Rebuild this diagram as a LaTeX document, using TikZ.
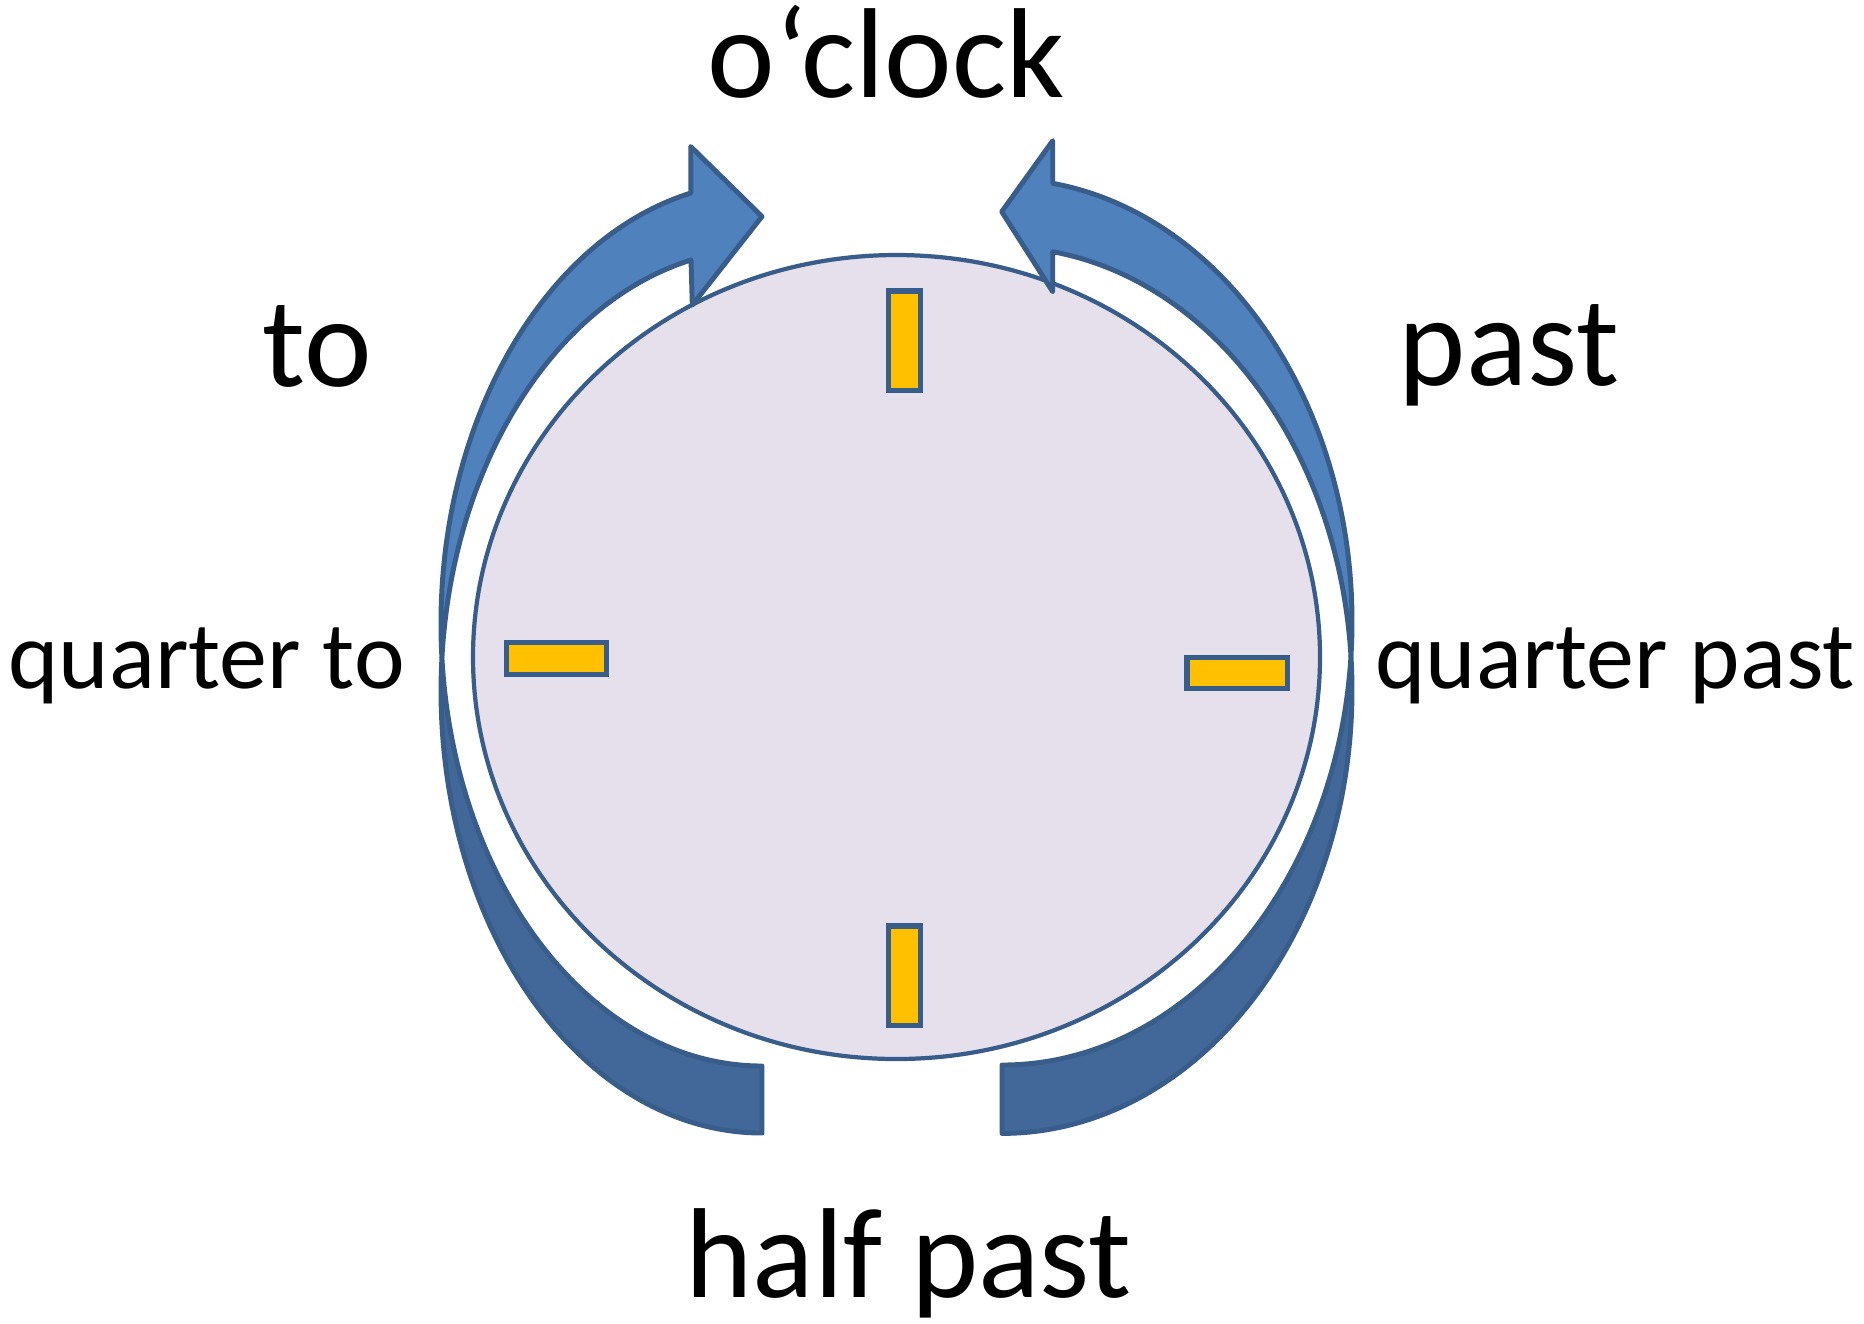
\documentclass[tikz,border=0pt]{standalone}
\usepackage{fontspec}
\setmainfont{Carlito}
\definecolor{arrowblue}{HTML}{4F81BD}
\definecolor{arrowdark}{HTML}{416898}
\definecolor{edgeblue}{HTML}{385D8A}
\definecolor{clockfill}{HTML}{E5E0EC}
\definecolor{tickfill}{HTML}{FFC000}
\tikzset{
  clockface/.style={draw=edgeblue, fill=clockfill, line width=1.2pt},
  tickbox/.style={draw=edgeblue, fill=tickfill, line width=1.5pt},
  arrowup/.style={draw=edgeblue, fill=arrowblue, line width=1.4pt, line join=round},
  arrowlow/.style={draw=edgeblue, fill=arrowdark, line width=1.4pt, line join=round},
  leftarc/.style={x radius=321, y radius=442},
  rightarc/.style={x radius=350, y radius=443.2},
  bigtext/.style={font=\fontsize{36.4pt}{40pt}\selectfont, inner sep=0pt, anchor=base},
  smalltext/.style={font=\fontsize{27.3pt}{31pt}\selectfont, inner sep=0pt, anchor=base},
}
\begin{document}
\begin{tikzpicture}[x=0.01cm,y=-0.01cm]
\useasboundingbox (0,0) rectangle (1864,1323);
\fill[white] (0,0) rectangle (1864,1323);

% clock face
\draw[clockface] (896.5,657) ellipse [x radius=423.5, y radius=402];

% ticks
\draw[tickbox] (888.7,291) rectangle (920.7,390.7);
\draw[tickbox] (888.7,926) rectangle (920.7,1025.7);
\draw[tickbox] (506.7,642.7) rectangle (606.7,674.3);
\draw[tickbox] (1187,657.7) rectangle (1287.3,688.3);

% left ribbon: ellipses centred (762,624) and (762,691)
\coordinate (LX) at (441.9,657.5);
\coordinate (LEndB) at (762,1133);
\coordinate (LHt) at (690.7,146.5);
\coordinate (LTip) at (762,216.5);
\coordinate (LHb) at (692.3,305);
\coordinate (LJi) at (691,260);
\draw[arrowlow] (LX) arc[start angle=175.65, end angle=90, leftarc]
  -- (LEndB) arc[start angle=90, end angle=184.35, leftarc] -- cycle;
\draw[arrowup] (LX) arc[start angle=175.65, end angle=257.22, leftarc]
  -- (LHt) -- (LTip) -- (LHb) -- (LJi)
  arc[start angle=257.22, end angle=184.35, leftarc] -- cycle;

% right ribbon: ellipses centred (1002,621.8) and (1002,690.2)
\coordinate (RX) at (1350.96,656);
\coordinate (REndB) at (1002,1133.4);
\coordinate (RHt) at (1052.7,140.7);
\coordinate (RTip) at (1001.7,211.7);
\coordinate (RHb) at (1052.7,291.7);
\coordinate (RJi) at (1052.7,251.7);
\draw[arrowlow] (RX) arc[start angle=4.426, end angle=90, rightarc]
  -- (REndB) arc[start angle=90, end angle=-4.426, rightarc] -- cycle;
\draw[arrowup] (RX) arc[start angle=4.426, end angle=-81.67, rightarc]
  -- (RHt) -- (RTip) -- (RHb) -- (RJi)
  arc[start angle=-81.67, end angle=-4.426, rightarc] -- cycle;

% labels
\node[bigtext] (oclock) at (886,97) {o‘clock};
\node[bigtext] (to) at (317.5,386) {to};
\node[bigtext] (past) at (1509,385) {past};
\node[smalltext] (qto) at (206.5,688) {quarter to};
\node[smalltext] (qpast) at (1615,688) {quarter past};
\node[bigtext] (half) at (908.5,1297) {half past};
\end{tikzpicture}
\end{document}
